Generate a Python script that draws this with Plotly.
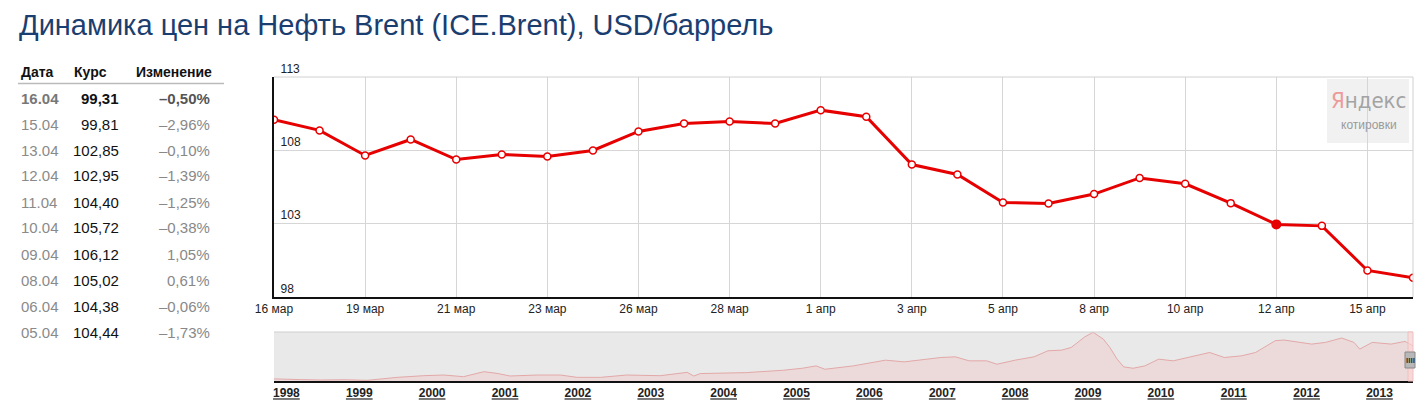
import plotly.graph_objects as go

W, H = 1423, 400

# main chart data (Brent, USD/barrel)
dates = ["16 мар", "18 мар", "19 мар", "20 мар", "21 мар", "22 мар", "23 мар", "25 мар",
         "26 мар", "27 мар", "28 мар", "29 мар", "1 апр", "2 апр", "3 апр", "4 апр",
         "5 апр", "6 апр", "8 апр", "9 апр", "10 апр", "11 апр", "12 апр", "13 апр",
         "15 апр", "16 апр"]
prices = [110.08, 109.36, 107.65, 108.74, 107.37, 107.72, 107.58, 107.99,
          109.29, 109.83, 109.97, 109.83, 110.74, 110.29, 107.03, 106.35,
          104.44, 104.38, 105.02, 106.12, 105.72, 104.40, 102.95, 102.85,
          99.81, 99.31]
highlight_date = "12 апр"
y_ticks = [98, 103, 108, 113]

# table on the left
table_dates = ["16.04", "15.04", "13.04", "12.04", "11.04", "10.04", "09.04", "08.04", "06.04", "05.04"]
table_rates = ["99,31", "99,81", "102,85", "102,95", "104,40", "105,72", "106,12", "105,02", "104,38", "104,44"]
table_changes = ["–0,50%", "–2,96%", "–0,10%", "–1,39%", "–1,25%", "–0,38%", "1,05%", "0,61%", "–0,06%", "–1,73%"]

# navigator (long history), x in years
nav_t = [1997.83, 1997.87, 1998.19, 1998.47, 1998.81, 1999.11, 1999.52, 1999.88, 2000.16, 2000.43,
         2000.71, 2000.89, 2001.07, 2001.44, 2001.76, 2001.99, 2002.31, 2002.67, 2003.13, 2003.50,
         2003.59, 2003.68, 2004.31, 2004.82, 2005.08, 2005.27, 2005.39, 2005.78, 2006.09, 2006.22,
         2006.48, 2006.67, 2006.98, 2007.18, 2007.37, 2007.61, 2007.75, 2008.00, 2008.26, 2008.45,
         2008.64, 2008.77, 2008.96, 2009.07, 2009.21, 2009.30, 2009.40, 2009.49, 2009.62, 2009.78,
         2009.97, 2010.17, 2010.41, 2010.67, 2010.87, 2011.11, 2011.30, 2011.57, 2011.69, 2011.88,
         2012.07, 2012.26, 2012.48, 2012.65, 2012.73, 2012.90, 2013.16, 2013.35, 2013.46]
nav_v = [15.0, 14.6, 13.0, 11.8, 12.5, 10.9, 19.3, 24.0, 25.9, 21.2,
         35.3, 30.6, 23.1, 25.9, 25.9, 19.3, 19.3, 25.9, 24.0, 33.4,
         23.1, 30.0, 32.7, 39.4, 45.0, 51.7, 42.2, 51.7, 63.1, 67.9,
         63.1, 67.9, 75.4, 77.3, 66.0, 66.0, 56.4, 67.9, 77.3, 94.4,
         96.3, 103.9, 134.2, 146.5, 127.6, 103.9, 70.7, 48.9, 45.0, 51.7,
         70.7, 66.0, 77.3, 89.6, 75.4, 80.2, 89.6, 122.9, 124.8, 118.1,
         113.3, 118.1, 130.5, 118.1, 99.2, 118.1, 113.3, 120.9, 108.6]
nav_years = list(range(1998, 2014))


def px(x):
    return x / W


def py(y):
    return 1 - y / H


idx = list(range(len(dates)))
hl = dates.index(highlight_date)

fig = go.Figure()

fig.add_trace(go.Scatter(
    x=idx, y=prices, mode="lines+markers",
    line=dict(color="#e60000", width=3),
    marker=dict(size=7, color="white", line=dict(color="#e60000", width=1.5)),
    xaxis="x", yaxis="y", hoverinfo="skip"))
fig.add_trace(go.Scatter(
    x=[idx[hl]], y=[prices[hl]], mode="markers",
    marker=dict(size=10, color="#e60000"),
    xaxis="x", yaxis="y", hoverinfo="skip"))

fig.add_trace(go.Scatter(
    x=nav_t, y=nav_v, mode="lines", fill="tozeroy",
    line=dict(color="#e3a8a8", width=1),
    fillcolor="rgba(240,200,200,0.45)",
    xaxis="x2", yaxis="y2", hoverinfo="skip"))

fig.update_layout(
    width=W, height=H,
    margin=dict(l=0, r=0, t=0, b=0, autoexpand=False),
    paper_bgcolor="white", plot_bgcolor="white",
    showlegend=False, hovermode=False,
    font=dict(family="Liberation Sans, Arial, sans-serif", size=12, color="#222"),
    xaxis=dict(
        domain=[px(274), px(1413)], range=[0, len(dates) - 1],
        tickvals=idx[::2], ticktext=[dates[i] for i in idx[::2]],
        showgrid=True, gridcolor="#d6d6d6", gridwidth=1,
        showline=True, linecolor="#111", linewidth=2,
        ticks="", zeroline=False, tickfont=dict(size=12, color="#222"),
        ticklabeloverflow="allow", automargin=False,
        anchor="y", fixedrange=True),
    yaxis=dict(
        domain=[py(297), py(77)], range=[98, 113],
        tickvals=y_ticks, ticklabelposition="inside top", ticklabelstandoff=5,
        showgrid=True, gridcolor="#d6d6d6", gridwidth=1,
        showline=True, linecolor="#111", linewidth=2,
        ticks="", zeroline=False, tickfont=dict(size=12, color="#222"),
        ticklabeloverflow="allow", automargin=False,
        anchor="x", fixedrange=True),
    xaxis2=dict(
        domain=[px(274), px(1413)], range=[nav_t[0], nav_t[-1]],
        tickvals=nav_years, ticktext=["<b><u>%d</u></b>" % y for y in nav_years],
        showgrid=False, showline=True, linecolor="#111", linewidth=2,
        ticks="", zeroline=False, tickfont=dict(size=12, color="#222"),
        ticklabeloverflow="allow", automargin=False,
        anchor="y2", fixedrange=True),
    yaxis2=dict(
        domain=[py(381), py(332)], range=[9, 147.5],
        showgrid=False, showticklabels=False, showline=False,
        ticks="", zeroline=False, anchor="x2", fixedrange=True, automargin=False),
)

shapes = [
    # main plot top and right border
    dict(type="line", xref="paper", yref="paper", x0=px(274), x1=px(1413), y0=py(77), y1=py(77),
         line=dict(color="#d0d0d0", width=1)),
    dict(type="line", xref="paper", yref="paper", x0=px(1413), x1=px(1413), y0=py(297), y1=py(77),
         line=dict(color="#d0d0d0", width=1)),
    # yandex logo box
    dict(type="rect", xref="paper", yref="paper", x0=px(1327), x1=px(1409), y0=py(143), y1=py(79),
         fillcolor="rgba(238,238,238,0.85)", line=dict(width=0), layer="below"),
    # navigator background
    dict(type="rect", xref="paper", yref="paper", x0=px(274), x1=px(1413), y0=py(381), y1=py(332),
         fillcolor="#e9e9e9", line=dict(width=0), layer="below"),
    dict(type="line", xref="paper", yref="paper", x0=px(274), x1=px(1413), y0=py(332), y1=py(332),
         line=dict(color="#cfcfcf", width=1)),
    # navigator selection window
    dict(type="rect", xref="paper", yref="paper", x0=px(1408), x1=px(1413), y0=py(381), y1=py(332),
         fillcolor="rgba(255,215,215,0.6)", line=dict(color="#f0c0c0", width=1)),
    # navigator handle
    dict(type="rect", xref="paper", yref="paper", x0=px(1405), x1=px(1415), y0=py(368), y1=py(352),
         fillcolor="#b8b8b8", line=dict(color="#888", width=1)),
    # table header rule
    dict(type="line", xref="paper", yref="paper", x0=px(18), x1=px(224), y0=py(83.5), y1=py(83.5),
         line=dict(color="#bbbbbb", width=1.5)),
]

ann = [
    dict(text="Динамика цен на Нефть Brent (ICE.Brent), USD/баррель",
         x=px(17), y=py(25), xanchor="left", yanchor="middle",
         font=dict(size=29, color="#1b3e70")),
    dict(text="<span style='color:#ee9a9a'>Я</span>ндекс", x=px(1368), y=py(101),
         xanchor="center", yanchor="middle",
         font=dict(size=22, color="#a3a3a3",
                   family="Liberation Sans Narrow, DejaVu Sans Condensed, Arial Narrow, sans-serif")),
    dict(text="котировки", x=px(1369), y=py(125), xanchor="center", yanchor="middle",
         font=dict(size=12, color="#9a9a9a")),
    dict(text="<b>IIII</b>", x=px(1410), y=py(360), xanchor="center", yanchor="middle",
         font=dict(size=8, color="#333")),
    dict(text="<b>Дата</b>", x=px(19), y=py(72), xanchor="left", yanchor="middle",
         font=dict(size=14, color="#111")),
    dict(text="<b>Курс</b>", x=px(72), y=py(72), xanchor="left", yanchor="middle",
         font=dict(size=14, color="#111")),
    dict(text="<b>Изменение</b>", x=px(214), y=py(72), xanchor="right", yanchor="middle",
         font=dict(size=14, color="#111")),
]

for i in range(len(table_dates)):
    yy = py(98 + 26 * i)
    first = i == 0
    d_txt = "<b>%s</b>" % table_dates[i] if first else table_dates[i]
    r_txt = "<b>%s</b>" % table_rates[i] if first else table_rates[i]
    c_txt = "<b>%s</b>" % table_changes[i] if first else table_changes[i]
    ann.append(dict(text=d_txt, x=px(19), y=yy, xanchor="left", yanchor="middle",
                    font=dict(size=15, color="#777" if first else "#8a8a8a")))
    ann.append(dict(text=r_txt, x=px(121), y=yy, xanchor="right", yanchor="middle",
                    font=dict(size=15, color="#111")))
    ann.append(dict(text=c_txt, x=px(212), y=yy, xanchor="right", yanchor="middle",
                    font=dict(size=15, color="#555" if first else "#888")))

for a in ann:
    a.update(xref="paper", yref="paper", showarrow=False)

fig.update_layout(shapes=shapes, annotations=ann)

fig.write_html("out.html", config={"displayModeBar": False},
               post_script="document.body.style.margin='0';")
